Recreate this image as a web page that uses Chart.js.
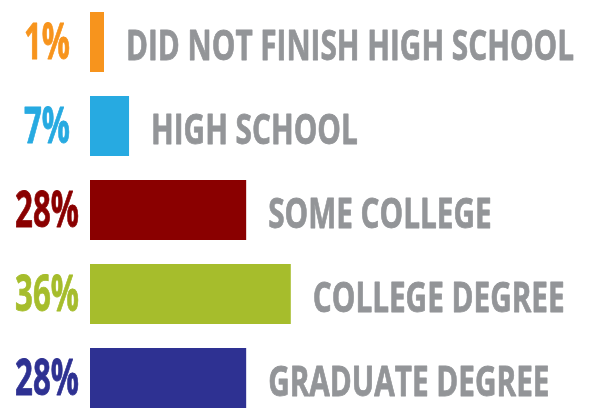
<!DOCTYPE html>
<html>
<head>
<meta charset="utf-8">
<script src="https://cdn.jsdelivr.net/npm/chart.js@4"></script>
<style>
    html, body { margin: 0; padding: 0; background: #fff; overflow: hidden; }
    #wrap { width: 592px; height: 420px; position: relative; }
</style>
</head>
<body>
<div id="wrap"><canvas id="eduChart"></canvas></div>
<script>
// education levels and share of respondents (%)
const levels = ['DID NOT FINISH HIGH SCHOOL', 'HIGH SCHOOL', 'SOME COLLEGE', 'COLLEGE DEGREE', 'GRADUATE DEGREE'];
const shares = [1, 7, 28, 36, 28];
const barColors = ['#F7941D', '#27AAE1', '#8A0000', '#A6BD2C', '#2E3192'];

const labelFont = '"Open Sans", "DejaVu Sans Condensed", sans-serif';

// no condensed face installed, so squeeze the bold one horizontally
function squeeze(ctx, font, sample, width) {
    ctx.font = font;
    return width / ctx.measureText(sample).width;
}

// fill plus a thin stroke of the same colour to get a heavier look
function heavyText(ctx, text, color, weight) {
    ctx.fillStyle = color;
    ctx.strokeStyle = color;
    ctx.lineWidth = weight;
    ctx.lineJoin = 'round';
    ctx.fillText(text, 0, 0);
    ctx.strokeText(text, 0, 0);
}

// percent on the left, category name after the bar end
const barLabels = {
    id: 'barLabels',
    afterDatasetsDraw(chart) {
        const ctx = chart.ctx;
        const meta = chart.getDatasetMeta(0);
        const pctFont = 'bold 50px ' + labelFont;
        const catFont = 'bold 42px ' + labelFont;
        const pctSx = squeeze(ctx, pctFont, '28%', 64);
        const catSx = squeeze(ctx, catFont, levels[0], 448);

        meta.data.forEach((bar, i) => {
            ctx.save();
            ctx.font = pctFont;
            ctx.textAlign = 'center';
            ctx.textBaseline = 'alphabetic';
            ctx.translate(47, bar.y + 17);
            ctx.scale(pctSx, 1);
            heavyText(ctx, shares[i] + '%', barColors[i], 0.8);
            ctx.restore();

            ctx.save();
            ctx.font = catFont;
            ctx.textAlign = 'left';
            ctx.textBaseline = 'alphabetic';
            ctx.translate(bar.x + 22, bar.y + 18);
            ctx.scale(catSx, 1);
            heavyText(ctx, levels[i], '#939598', 0.8);
            ctx.restore();
        });
    }
};

new Chart(document.getElementById('eduChart'), {
    type: 'bar',
    data: {
        labels: levels,
        datasets: [{
            data: shares,
            backgroundColor: barColors,
            borderWidth: 0,
            categoryPercentage: 1,
            barPercentage: 0.714,
            minBarLength: 14
        }]
    },
    options: {
        indexAxis: 'y',
        responsive: true,
        maintainAspectRatio: false,
        animation: false,
        layout: { padding: { left: 90, right: 0, top: 0, bottom: 0 } },
        plugins: {
            legend: { display: false },
            tooltip: { enabled: false }
        },
        scales: {
            x: { display: false, min: 0, max: 90 },
            y: { display: false, grid: { display: false } }
        }
    },
    plugins: [barLabels]
});
</script>
</body>
</html>
